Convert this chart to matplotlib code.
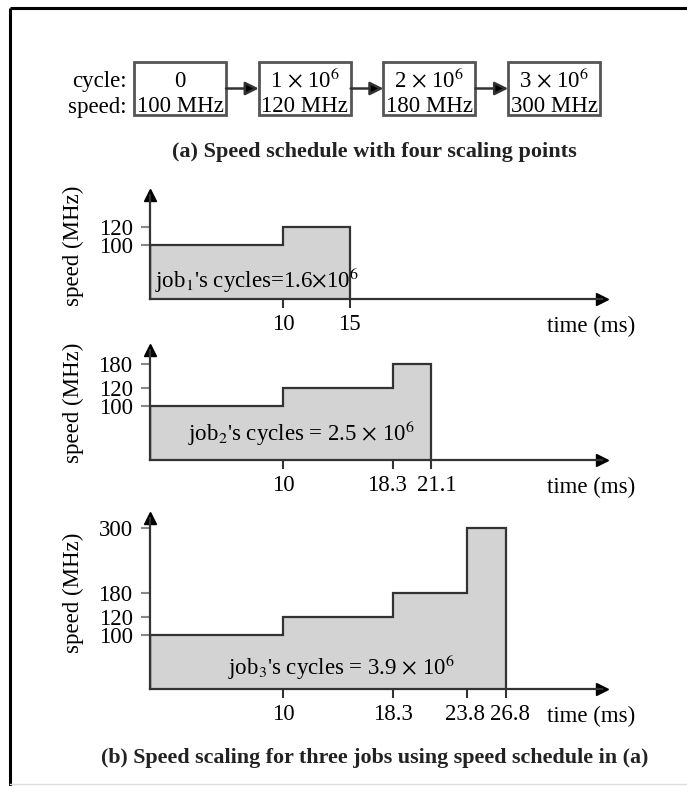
import numpy as np
import matplotlib
matplotlib.use("Agg")
import matplotlib.pyplot as plt
from matplotlib.patches import Rectangle
from matplotlib.transforms import blended_transform_factory, ScaledTranslation

plt.rcParams["font.family"] = ["Liberation Serif", "DejaVu Serif"]
plt.rcParams["mathtext.fontset"] = "stix"

# speed schedule: scaling points (cycle at which speed changes, speed in MHz)
schedule_cycles = ["0", r"1 $\times$ 10$^6$", r"2 $\times$ 10$^6$", r"3 $\times$ 10$^6$"]
schedule_speeds = [100, 120, 180, 300]

# per-job speed segments: edges in ms, speed for each segment
job1_edges = [0, 10, 15]
job1_speeds = [100, 120]
job1_label = r"job$_1$'s cycles=1.6$\times$10$^6$"

job2_edges = [0, 10, 18.3, 21.1]
job2_speeds = [100, 120, 180]
job2_label = r"job$_2$'s cycles = 2.5 $\times$ 10$^6$"

job3_edges = [0, 10, 18.3, 23.8, 26.8]
job3_speeds = [100, 120, 180, 300]
job3_label = r"job$_3$'s cycles = 3.9 $\times$ 10$^6$"

tick_labels1 = ["10", "15"]
tick_labels2 = ["10", "18.3", "21.1"]
tick_labels3 = ["10", "18.3", "23.8", "26.8"]

W, H = 687, 786
DPI = 100
LINE = "#333333"
FILL = "#d3d3d3"
FS = 16.5

# schematic (non-linear) speed axis: speed level -> height in px
LEVELS = np.array([0, 100, 120, 180, 300], float)
HEIGHTS = np.array([0, 54, 72, 96, 161], float)
SLOPE = (HEIGHTS[-1] - HEIGHTS[-2]) / (LEVELS[-1] - LEVELS[-2])


def to_height(v):
    v = np.asarray(v, float)
    h = np.interp(v, LEVELS, HEIGHTS)
    h = np.where(v > LEVELS[-1], HEIGHTS[-1] + (v - LEVELS[-1]) * SLOPE, h)
    return np.where(v < 0, v * HEIGHTS[1] / LEVELS[1], h)


def to_speed(h):
    h = np.asarray(h, float)
    v = np.interp(h, HEIGHTS, LEVELS)
    v = np.where(h > HEIGHTS[-1], LEVELS[-1] + (h - HEIGHTS[-1]) / SLOPE, v)
    return np.where(h < 0, h * LEVELS[1] / HEIGHTS[1], v)


fig = plt.figure(figsize=(W / DPI, H / DPI), dpi=DPI)

# background layer in pixel coordinates: frame, schedule boxes, captions
bg = fig.add_axes([0, 0, 1, 1], zorder=0)
bg.set_xlim(0, W)
bg.set_ylim(H, 0)
bg.axis("off")
bg.plot([10, W], [8, 8], color="black", lw=2.2, solid_capstyle="butt")
bg.plot([10, 10], [8, H], color="black", lw=2.2, solid_capstyle="butt")
bg.plot([10, W], [784, 784], color="#dddddd", lw=1)

box_w, box_top, box_bot = 92, 62, 115
box_x = [134 + 124.7 * i for i in range(len(schedule_cycles))]
for i, (cyc, spd) in enumerate(zip(schedule_cycles, schedule_speeds)):
    x0 = box_x[i]
    bg.add_patch(Rectangle((x0, box_top), box_w, box_bot - box_top,
                           fill=False, ec="#555555", lw=2))
    bg.text(x0 + box_w / 2, 87, cyc, ha="center", va="baseline", fontsize=FS)
    bg.text(x0 + box_w / 2, 112.5, f"{spd} MHz", ha="center", va="baseline", fontsize=FS)
    if i > 0:
        bg.annotate("", xy=(x0, 88.5), xytext=(box_x[i - 1] + box_w, 88.5),
                    arrowprops=dict(arrowstyle="-|>", color="#555555", lw=1.8,
                                    mutation_scale=20, shrinkA=0, shrinkB=0,
                                    fc="black", ec="#333333"))
bg.text(127, 87, "cycle:", ha="right", va="baseline", fontsize=FS)
bg.text(127, 112.5, "speed:", ha="right", va="baseline", fontsize=FS)
bg.text(374, 152, "(a) Speed schedule with four scaling points",
        ha="center", va="center", fontsize=16, fontweight="bold", color="#222222")
bg.text(375, 758, "(b) Speed scaling for three jobs using speed schedule in (a)",
        ha="center", va="center", fontsize=15.8, fontweight="bold", color="#222222")

PX_PER_MS = 13.3
X_LEFT = 150
X_MAX = 34.0

panels = [
    # edges, speeds, label, tick labels, label nudges px, origin y px, axis height px,
    # job text (ms, px above axis, align), ylabel centre (axes fraction)
    (job1_edges, job1_speeds, job1_label, tick_labels1, [0, 0], 299, 104, (0.4, 19, "left"), 0.51),
    (job2_edges, job2_speeds, job2_label, tick_labels2, [0, -6, 6], 460, 110, (11.4, 27, "center"), 0.52),
    (job3_edges, job3_speeds, job3_label, tick_labels3, [0, 0, -2, 4], 689, 171, (14.4, 22, "center"), 0.56),
]

for edges, speeds, label, tlabels, nudges, oy, ah, (tx, ty, tha), yl in panels:
    ax = fig.add_axes([X_LEFT / W, 1 - oy / H, X_MAX * PX_PER_MS / W, ah / H], zorder=1)
    ax.patch.set_alpha(0)
    ax.set_yscale("function", functions=(to_height, to_speed))
    ax.set_xlim(0, X_MAX)
    ax.set_ylim(0, float(to_speed(ah)))

    ax.stairs(speeds, edges, fill=True, color=FILL, lw=0)
    ax.stairs(speeds, edges, color=LINE, lw=1.6)
    ax.plot([0, 0], [0, speeds[0]], color=LINE, lw=1.6)

    for side in ("top", "right"):
        ax.spines[side].set_visible(False)
    for side in ("left", "bottom"):
        ax.spines[side].set_color(LINE)
        ax.spines[side].set_linewidth(1.6)

    ax.plot(1, 0, ">", color="black", ms=9, transform=ax.transAxes, clip_on=False)
    ax.plot(0, 1, "^", color="black", ms=9, transform=ax.transAxes, clip_on=False)

    ax.set_xticks(edges[1:])
    ax.set_xticklabels(tlabels)
    levels = sorted(set(speeds))
    ax.set_yticks(levels)
    ax.set_yticklabels([str(s) for s in levels])
    ax.yaxis.set_minor_locator(matplotlib.ticker.NullLocator())
    ax.tick_params(axis="x", direction="out", length=6.5, width=1.5, color=LINE,
                   labelsize=FS, pad=4.5)
    ax.tick_params(axis="y", direction="out", length=6.5, width=1.5, color="#888888",
                   labelsize=FS, pad=6)
    # spread apart labels of ticks that sit close together
    for lab, dx in zip(ax.get_xticklabels(), nudges):
        lab.set_transform(lab.get_transform() + ScaledTranslation(dx / DPI, 0, fig.dpi_scale_trans))

    ax.set_ylabel("speed (MHz)", fontsize=FS)
    ax.yaxis.set_label_coords(-66 / (X_MAX * PX_PER_MS), yl, transform=ax.transAxes)
    ax.annotate("time (ms)", xy=(33.2, 0), xycoords=("data", "axes fraction"),
                xytext=(0, -20), textcoords="offset points",
                ha="center", va="center", fontsize=FS)

    trans = blended_transform_factory(ax.transData, ax.transAxes)
    ax.text(tx, ty / ah, label, transform=trans, ha=tha, va="center", fontsize=FS)

fig.savefig("out.png", dpi=DPI)
